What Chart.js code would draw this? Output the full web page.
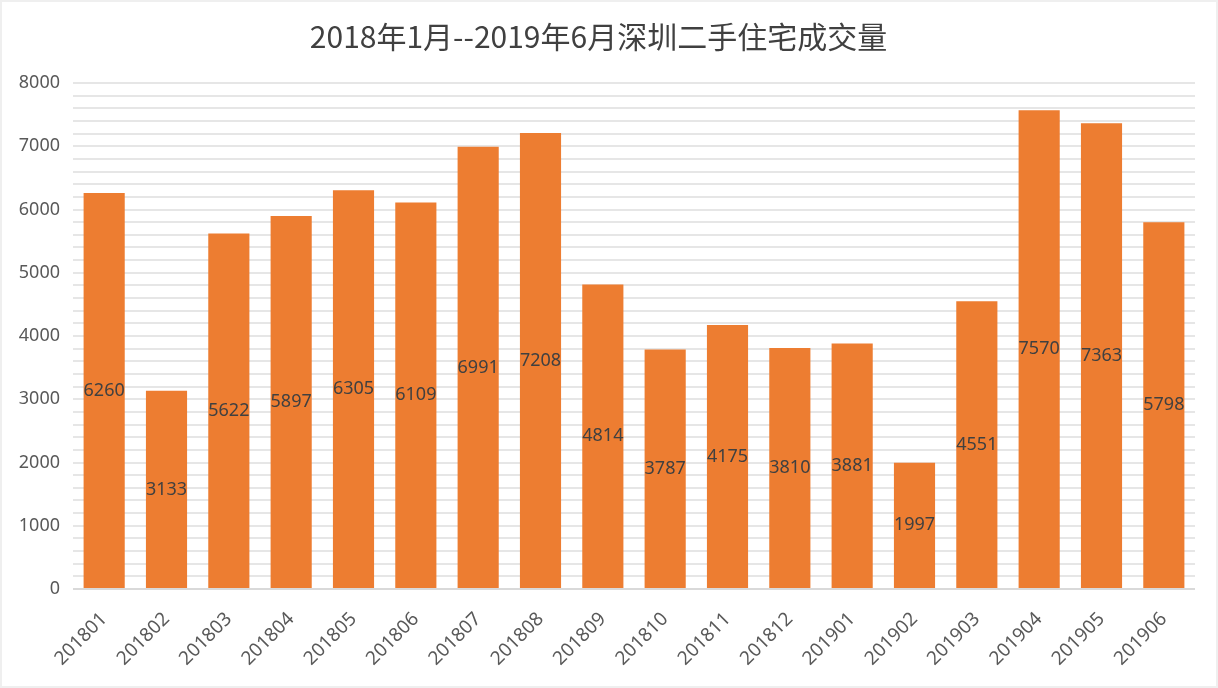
<!DOCTYPE html>
<html><head><meta charset="utf-8">
<script src="https://cdn.jsdelivr.net/npm/chart.js@4/dist/chart.umd.min.js"></script>
<style>
html,body{margin:0;padding:0;background:#fff;}
#wrap{position:absolute;left:0;top:0;width:1218px;height:688px;box-sizing:border-box;border:2px solid #efefef;}
canvas{display:block;}
</style></head><body>
<div id="wrap"><canvas id="c" width="1214" height="684"></canvas></div>
<script>
const categories = ["201801","201802","201803","201804","201805","201806","201807","201808","201809","201810","201811","201812","201901","201902","201903","201904","201905","201906"];
const volumes = [6260,3133,5622,5897,6305,6109,6991,7208,4814,3787,4175,3810,3881,1997,4551,7570,7363,5798];
const titleText = "2018年1月--2019年6月深圳二手住宅成交量";
const yMax = 8000;

const numFont = "'Noto Sans', 'DejaVu Sans', sans-serif";
const labelPlugin = {
  id: 'centerLabels',
  afterDatasetsDraw(chart) {
    const ctx = chart.ctx;
    const meta = chart.getDatasetMeta(0);
    ctx.save();
    ctx.font = "18px " + numFont;
    ctx.fillStyle = "#404040";
    ctx.textAlign = "center";
    ctx.textBaseline = "middle";
    meta.data.forEach((el, i) => {
      const v = chart.data.datasets[0].data[i];
      ctx.fillText(String(v), el.x, (el.y + el.base) / 2);
    });
    ctx.restore();
  }
};

new Chart(document.getElementById('c'), {
  type: 'bar',
  data: {
    labels: categories,
    datasets: [{
      data: volumes,
      backgroundColor: '#ED7D31',
      categoryPercentage: 1.0,
      barPercentage: 0.66
    }]
  },
  options: {
    responsive: false,
    animation: false,
    devicePixelRatio: 1,
    layout: { padding: { left: 0, right: 21, top: 0, bottom: 0 } },
    plugins: {
      legend: { display: false },
      tooltip: { enabled: false },
      title: {
        display: true,
        text: titleText,
        color: '#404040',
        font: { family: "'Noto Sans CJK SC', sans-serif", size: 30, weight: 'normal' },
        padding: { top: 17, bottom: 28 }
      }
    },
    scales: {
      x: {
        grid: { display: false, drawTicks: false },
        border: { display: false },
        ticks: {
          color: '#595959',
          font: { family: numFont, size: 19 },
          maxRotation: 45, minRotation: 45,
          padding: 19
        },
        afterFit(s) { s.height = 97; }
      },
      y: {
        min: 0, max: yMax,
        grid: {
          color: ctx => ctx.tick && ctx.tick.value === 0 ? '#d9d9d9' : '#e6e6e6',
          lineWidth: 2,
          drawTicks: false
        },
        border: { display: false },
        ticks: {
          stepSize: 200,
          autoSkip: false,
          color: '#595959',
          font: { family: numFont, size: 18 },
          padding: 13,
          callback: v => (v % 1000 === 0 ? String(v) : '')
        },
        afterFit(s) { s.width = 71; }
      }
    }
  },
  plugins: [labelPlugin]
});
</script>
</body></html>
